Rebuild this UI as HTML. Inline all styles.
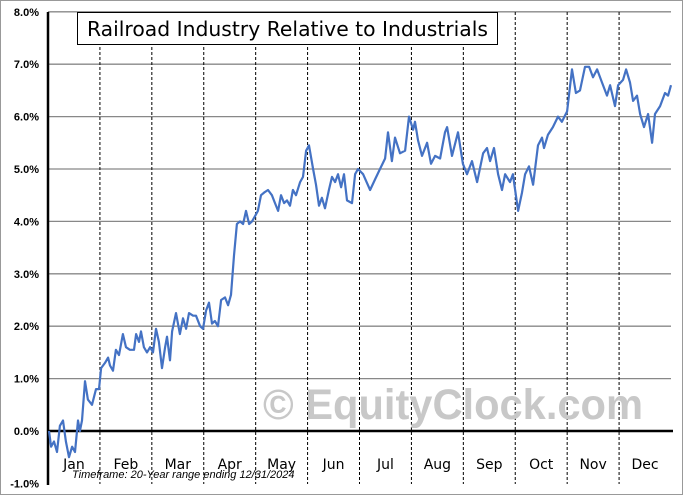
<!DOCTYPE html>
<html><head><meta charset="utf-8"><style>
body{margin:0;background:#fff;width:683px;height:496px;overflow:hidden}
svg{display:block}
</style></head><body>
<svg id="c" width="683" height="496" xmlns="http://www.w3.org/2000/svg">
<rect x="0.5" y="0.5" width="682" height="494" fill="#fff" stroke="#999"/>
<g id="grid"></g>
<text x="263" y="419" textLength="380" lengthAdjust="spacingAndGlyphs" font-family="'Liberation Sans',sans-serif" font-weight="bold" font-size="43" fill="#c8c8c8">© EquityClock.com</text>
<g id="axes"></g>
<path id="line" fill="none" stroke="#4472c4" stroke-width="2.2" stroke-linejoin="round"/>
<rect x="77.5" y="12.5" width="420" height="32" fill="#fff" stroke="#000"/>
<text x="87" y="36" textLength="401" lengthAdjust="spacingAndGlyphs" font-family="'DejaVu Sans','Liberation Sans',sans-serif" font-size="20" fill="#000">Railroad Industry Relative to Industrials</text>
<text x="72" y="478" font-family="'Liberation Sans',sans-serif" font-style="italic" font-size="11" fill="#000">Timeframe: 20-Year range ending 12/31/2024</text>
</svg>
<script>
const yTicks=[-1,0,1,2,3,4,5,6,7,8];
const months=["Jan","Feb","Mar","Apr","May","Jun","Jul","Aug","Sep","Oct","Nov","Dec"];
const days=[0.6,1.8,3.5,5.3,7.0,8.8,10.5,12.3,14.1,15.8,17.6,18.7,19.9,21.7,23.4,25.8,28.1,29.9,31.1,33.4,35.2,36.3,38.1,39.8,41.6,43.9,45.7,48.0,50.4,51.6,53.3,54.5,56.2,58.0,59.8,61.5,63.3,65.0,66.8,68.6,69.7,71.5,72.7,75.0,77.3,79.1,80.9,82.6,85.0,86.7,89.1,90.8,92.6,94.3,96.1,97.8,99.6,101.4,103.7,105.5,107.2,109.0,110.7,112.5,114.3,116.0,117.8,119.5,121.3,123.0,124.8,126.6,128.9,131.2,133.0,134.8,136.5,138.3,140.0,141.8,143.5,145.3,147.7,149.4,151.2,152.9,155.3,157.0,158.8,160.5,162.3,164.6,166.4,168.2,169.9,171.7,173.4,175.2,178.1,179.9,181.6,184.6,188.7,191.6,194.5,197.5,199.2,201.5,203.3,206.2,209.2,211.5,213.9,215.0,216.8,219.1,222.1,224.4,226.8,229.7,232.6,233.8,236.7,240.2,243.1,245.5,248.4,251.4,254.9,257.2,259.0,261.3,263.7,266.0,267.8,270.7,272.4,275.4,277.7,279.5,281.8,284.2,287.1,289.4,290.6,292.9,295.8,298.8,301.1,304.1,307.0,309.3,311.7,314.6,317.0,319.3,321.7,324.6,327.5,329.3,332.2,334.0,336.9,338.7,341.0,342.8,345.1,346.9,349.2,351.6,353.9,355.6,358.6,361.5,363.3,365];
const values=[0.0,-0.3,-0.2,-0.4,0.1,0.2,-0.2,-0.5,-0.3,-0.4,0.2,0.0,0.2,0.95,0.6,0.5,0.8,0.8,1.2,1.3,1.4,1.25,1.15,1.55,1.45,1.85,1.6,1.55,1.55,1.85,1.7,1.9,1.6,1.5,1.6,1.5,1.95,1.7,1.2,1.6,1.8,1.35,1.9,2.25,1.85,2.15,1.95,2.25,2.2,2.2,2.0,1.95,2.3,2.45,2.05,2.1,2.0,2.5,2.55,2.4,2.6,3.35,3.95,4.0,3.95,4.2,3.95,4.0,4.1,4.2,4.5,4.55,4.6,4.5,4.35,4.2,4.5,4.35,4.4,4.3,4.6,4.5,4.75,4.85,5.35,5.45,5.0,4.7,4.3,4.45,4.25,4.6,4.85,4.75,4.9,4.65,4.9,4.4,4.35,4.9,5.0,4.9,4.6,4.8,5.0,5.2,5.7,5.15,5.6,5.3,5.35,6.0,5.75,5.9,5.55,5.25,5.5,5.1,5.25,5.2,5.7,5.8,5.25,5.7,5.1,4.9,5.15,4.75,5.3,5.4,5.15,5.4,4.9,4.6,4.9,4.75,4.9,4.2,4.55,4.9,5.05,4.7,5.45,5.6,5.4,5.65,5.8,6.0,5.9,6.1,6.9,6.45,6.5,6.95,6.95,6.75,6.9,6.65,6.4,6.6,6.2,6.6,6.7,6.9,6.65,6.3,6.4,6.05,5.8,6.05,5.5,6.05,6.2,6.45,6.4,6.6];

const L=48,R=671,Y0=431,PER=52.4;
const xs=d=>L+(d/365)*(R-L);
const ys=v=>Y0-v*PER;
const NS="http://www.w3.org/2000/svg";
function mk(tag,attrs,parent,txt){const e=document.createElementNS(NS,tag);for(const k in attrs)e.setAttribute(k,attrs[k]);if(txt!==undefined)e.textContent=txt;parent.appendChild(e);return e;}
const grid=document.getElementById('grid'),axes=document.getElementById('axes');
const mw=(R-L)/12;
yTicks.forEach(v=>{
  if(v!==0&&v!==-1){const g=mk('line',{x1:L,x2:R,y1:ys(v),y2:ys(v),stroke:'#888','stroke-width':1.3},grid);
  
  }
  const t=mk('text',{x:39,y:ys(v)+4,'text-anchor':'end','font-family':"'Liberation Sans',sans-serif",'font-weight':'bold','font-size':11,fill:'#000'},axes,v.toFixed(1)+'%');
  
  
});
months.forEach((m,i)=>{
  if(i>0){const g=mk('line',{x1:L+i*mw,x2:L+i*mw,y1:12,y2:484,stroke:'#000','stroke-width':1,'stroke-dasharray':'3,2'},grid);
  
  }
  const t=mk('text',{x:L+i*mw+mw/2,y:469,'text-anchor':'middle','font-family':"'DejaVu Sans','Liberation Sans',sans-serif",'font-size':14,fill:'#000'},axes,m);
  
  
});
const ya=mk('line',{x1:L,x2:L,y1:12,y2:485,stroke:'#000','stroke-width':2.5},axes);


const za=mk('line',{x1:L,x2:673,y1:Y0,y2:Y0,stroke:'#000','stroke-width':2.5},axes);


document.getElementById('line').setAttribute('d',days.map((d,i)=>(i?'L':'M')+xs(d).toFixed(1)+','+ys(values[i]).toFixed(1)).join(''));
</script>
</body></html>
